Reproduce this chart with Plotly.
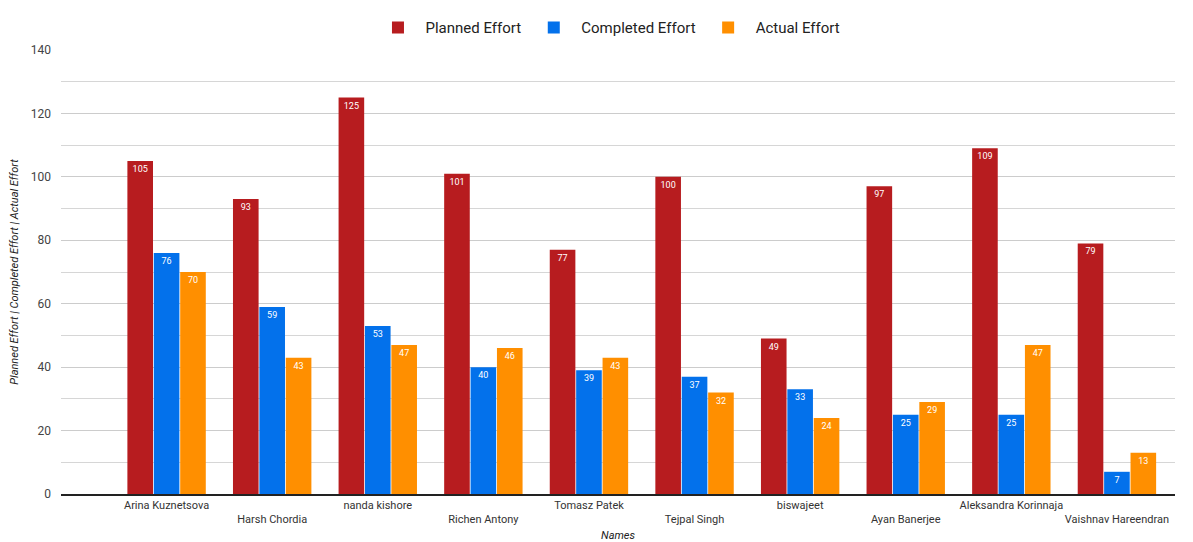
import plotly.graph_objects as go

names = ["Arina Kuznetsova", "Harsh Chordia", "nanda kishore", "Richen Antony", "Tomasz Patek",
         "Tejpal Singh", "biswajeet", "Ayan Banerjee", "Aleksandra Korinnaja", "Vaishnav Hareendran"]
planned = [105, 93, 125, 101, 77, 100, 49, 97, 109, 79]
completed = [76, 59, 53, 40, 39, 37, 33, 25, 25, 7]
actual = [70, 43, 47, 46, 43, 32, 24, 29, 47, 13]

series = [("Planned Effort", planned, "#B71C1F"),
          ("Completed Effort", completed, "#0371EB"),
          ("Actual Effort", actual, "#FF8F00")]

xs = list(range(len(names)))
fig = go.Figure()
for nm, vals, col in series:
    fig.add_trace(go.Bar(
        name=nm, x=xs, y=vals, marker=dict(color=col, line=dict(width=0)),
        text=[str(v) for v in vals], textposition="inside", insidetextanchor="end",
        textangle=0, constraintext="none",
        textfont=dict(color="white", size=9, family="Roboto"),
    ))

ticktext = [n if i % 2 == 0 else " <br>" + n for i, n in enumerate(names)]

fig.update_layout(
    width=1185, height=534,
    margin=dict(l=53, r=18, t=42, b=48, autoexpand=False),
    paper_bgcolor="white", plot_bgcolor="white",
    font=dict(family="Roboto", size=12, color="#444444"),
    barmode="group", bargap=0.25, bargroupgap=0.03,
    legend=dict(orientation="h", x=0.491, xanchor="center", y=1.05, yanchor="middle",
                font=dict(size=15, color="#222222"), itemwidth=45, traceorder="normal"),
    uniformtext=dict(minsize=9, mode="show"),
)
fig.update_xaxes(
    range=[-1.0, 9.55], tickmode="array", tickvals=xs, ticktext=ticktext, tickangle=0,
    automargin=False,
    showgrid=False, showline=True, linecolor="#222222", linewidth=1.5,
    ticks="", tickfont=dict(size=11, color="#333333"),
    title=dict(text="<i>Names</i>", font=dict(size=11, color="#222222"), standoff=6),
)
fig.update_yaxes(
    range=[0, 140], dtick=20, showgrid=True, gridcolor="#CCCCCC", gridwidth=1,
    minor=dict(dtick=10, showgrid=True, gridcolor="#D6D6D6"),
    zeroline=False, ticks="", ticklabelstandoff=9, automargin=False,
    tickfont=dict(size=12, color="#444444"),
    title=dict(text="<i>Planned Effort | Completed Effort | Actual Effort</i>",
               font=dict(size=11, color="#222222"), standoff=14),
)
fig.write_html("out.html")
